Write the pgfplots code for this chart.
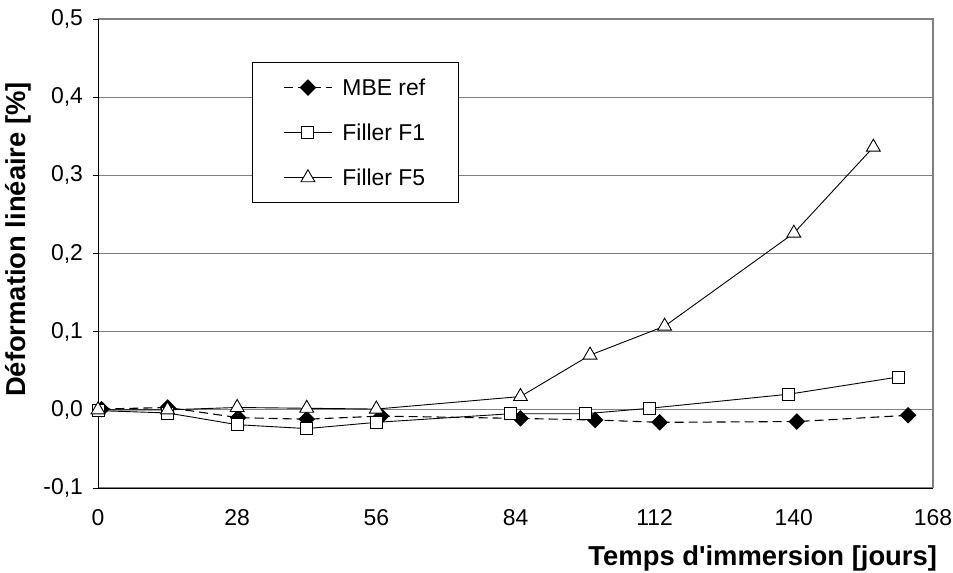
\documentclass[border=0pt]{standalone}
\usepackage{pgfplots}
\pgfplotsset{compat=1.18}
\usepackage{fontspec}
\setmainfont{Liberation Sans}
\definecolor{gridgray}{RGB}{128,128,128}
\begin{document}
\begin{tikzpicture}
\begin{axis}[
  at={(98bp,85bp)}, anchor=south west,
  scale only axis,
  width=835bp, height=469bp,
  xmin=0, xmax=168, ymin=-0.1, ymax=0.5,
  xtick={0,28,56,84,112,140,168},
  ytick={-0.1,0,0.1,0.2,0.3,0.4,0.5},
  yticklabels={{-0,1},{0,0},{0,1},{0,2},{0,3},{0,4},{0,5}},
  /pgf/number format/assume math mode=true,
  tick label style={font=\fontsize{23}{27}\selectfont},
  xtick style={draw=none},
  ytick align=outside, ytick pos=left,
  major tick length=5.5bp,
  ytick style={black, line width=0.8bp},
  xticklabel style={yshift=-18bp},
  yticklabel style={xshift=-6bp},
  ymajorgrids,
  major grid style={gridgray, line width=1.1bp},
  axis line style={draw=none},
  clip=false,
  xlabel={Temps d\textquotesingle immersion [jours]},
  ylabel={Déformation linéaire [\%]},
  label style={font=\bfseries\fontsize{27.5}{31}\selectfont},
  xlabel style={at={(axis description cs:1.009,-0.165)}, anchor=base east},
  ylabel style={at={(axis description cs:-0.096,0.53)}, anchor=center, rotate=0},
  legend style={at={(axis description cs:0.1844,0.908)}, anchor=north west,
    draw=black, line width=0.8bp, fill=white, font=\fontsize{23}{27}\selectfont,
    inner xsep=31bp, inner ysep=14bp, row sep=23bp},
  legend cell align=left,
  legend image code/.code={\draw[mark repeat=2,mark phase=2,#1] plot coordinates {(0bp,0bp) (24bp,0bp) (48bp,0bp)}; \path (56bp,0bp);},
]
% plot area frame
\draw[gridgray, line width=1.1bp] (rel axis cs:0,1) -- (rel axis cs:1,1) -- (rel axis cs:1,0);
\draw[black, line width=1bp] (rel axis cs:0,1) -- (rel axis cs:0,0) -- (rel axis cs:1,0);

\addplot[black, line width=1.1bp, dash pattern=on 9bp off 5bp, mark=square*, mark size=5.3bp, mark options={solid, fill=black, rotate=45}]
coordinates {(0.7,0.001) (14,0.003) (28.2,-0.010) (42,-0.012) (57,-0.008) (85,-0.011) (100,-0.013) (113,-0.016) (140.6,-0.015) (163,-0.007)};
\addlegendentry{MBE ref}
\addplot[black, line width=0.9bp, mark=square*, mark size=6bp, mark options={solid, fill=white, line width=0.9bp}]
coordinates {(0,-0.001) (14,-0.004) (28,-0.019) (42,-0.024) (56,-0.016) (83,-0.005) (98,-0.005) (111,0.002) (139,0.020) (161,0.042)};
\addlegendentry{Filler F1}
\addplot[black, line width=0.9bp, mark=triangle*, mark size=8bp, mark options={solid, fill=white, line width=0.9bp}]
coordinates {(0,0.0) (14,0.0) (28,0.003) (42,0.002) (56,0.001) (85,0.017) (99,0.070) (114,0.107) (140,0.226) (156,0.336)};
\addlegendentry{Filler F5}
\end{axis}
\pgfresetboundingbox
\path[use as bounding box] (0,0) rectangle (953bp,573bp);
\end{tikzpicture}
\end{document}
